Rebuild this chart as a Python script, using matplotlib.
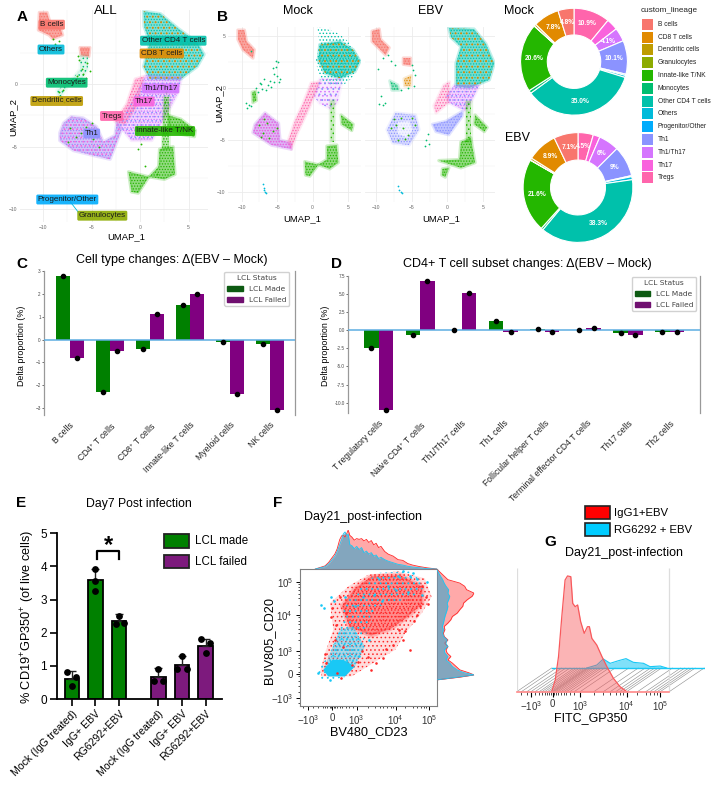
"""Multi-panel figure: UMAP clusters, lineage composition, cell type deltas and flow gates."""

import math

import matplotlib

matplotlib.use("Agg")

import matplotlib.pyplot as plt
from matplotlib.patches import Patch, Polygon, Rectangle

plt.rcParams["font.family"] = ["Liberation Sans", "DejaVu Sans"]
plt.rcParams["mathtext.default"] = "regular"
plt.rcParams["hatch.linewidth"] = 0.6

W, H = 711, 785

LINEAGES = ["B cells", "CD8 T cells", "Dendritic cells", "Granulocytes", "Innate-like T/NK",
            "Monocytes", "Other CD4 T cells", "Others", "Progenitor/Other", "Th1", "Th1/Th17",
            "Th17", "Tregs"]
LINEAGE_COLORS = ["#F8766D", "#E18A00", "#BE9C00", "#8CAB00", "#24B700", "#00BE70", "#00C1AB",
                  "#00BBDA", "#00ACFC", "#8B93FF", "#D575FE", "#F962DD", "#FF65AC"]
COL = dict(zip(LINEAGES, LINEAGE_COLORS))

# donut shares, clockwise from 12 o'clock
DONUT_ORDER = ["Tregs", "Th17", "Th1/Th17", "Th1", "Progenitor/Other", "Others", "Other CD4 T cells",
               "Monocytes", "Innate-like T/NK", "Granulocytes", "Dendritic cells", "CD8 T cells", "B cells"]
MOCK_SHARE = [10.9, 3.5, 4.1, 10.1, 0.4, 0.6, 35.0, 0.9, 20.6, 0.1, 0.6, 7.8, 4.8]
MOCK_TEXT = ["10.9%", "", "4.1%", "10.1%", "", "", "35.0%", "", "20.6%", "", "", "7.8%", "4.8%"]
EBV_SHARE = [4.5, 2.0, 6.0, 9.0, 0.3, 0.9, 38.3, 0.6, 21.6, 0.1, 0.6, 8.9, 7.1]
EBV_TEXT = ["4.5%", "", "6%", "9%", "", "", "38.3%", "", "21.6%", "", "", "8.9%", "7.1%"]

# cluster tags on the full UMAP: text, centre in figure pixels
ALL_TAGS = [("B cells", 51.7, 24.7), ("Others", 51, 49.5), ("Other CD4 T cells", 173.3, 40.7),
            ("CD8 T cells", 161.7, 53.5), ("Monocytes", 66.7, 82.7), ("Dendritic cells", 56.7, 101),
            ("Th1/Th17", 160.7, 88.5), ("Th17", 144, 101.5), ("Tregs", 111.7, 116), ("Th1", 91.7, 133.5),
            ("Innate-like T/NK", 165, 131), ("Progenitor/Other", 67.3, 199.5), ("Granulocytes", 102.3, 215.7)]

# cluster outlines on the UMAP, panel A
ALL_B = [(-10.4, 5.7), (-9.6, 5.7), (-9.3, 4.9), (-8.2, 4.4), (-8.0, 3.9), (-9.0, 3.6), (-9.4, 3.9), (-10.5, 4.3)]
ALL_TEAL = [(0.35, 5.8), (2.1, 5.6), (3.8, 4.5), (5.9, 3.3), (6.6, 2.35), (5.9, 1.4), (4.1, 0.35), (1.0, 0.4),
            (0.35, 1.4), (1.0, 3.3), (0.4, 4.6)]
ALL_MID = [(0.6, 0.7), (4.3, 0.6), (3.9, -0.7), (2.9, -2.2), (1.2, -4.5), (-0.9, -4.5), (-2.3, -3.2), (-1.0, -1.6)]
ALL_PINK = [(-0.5, 0.4), (0.4, 0.6), (-0.4, -1.8), (-1.6, -3.2), (-2.6, -3.0), (-1.4, -1.6)]
ALL_TH1 = [(-8.3, -3.9), (-7.9, -3.1), (-7.1, -2.6), (-5.9, -2.7), (-4.5, -3.4), (-3.8, -4.6), (-2.6, -4.1),
           (-2.4, -3.0), (-1.9, -3.6), (-3.1, -6.0), (-4.8, -5.7), (-6.9, -5.3), (-8.3, -4.5)]
ALL_STEM = [(2.5, -1.0), (3.0, -1.0), (3.0, -5.2), (2.3, -5.2)]
ALL_WING = [(2.9, -2.5), (4.2, -2.8), (5.7, -3.7), (5.6, -4.2), (4.2, -4.0), (3.0, -3.6)]
ALL_LOWER = [(2.0, -5.2), (3.4, -5.0), (3.6, -7.2), (2.5, -7.6), (0.9, -7.4), (1.9, -6.6)]
ALL_TAIL = [(-1.2, -7.0), (0.9, -7.4), (-0.2, -8.7), (-0.9, -8.6)]
ALL_MONO_TOP = [(-6.2, 2.9), (-5.2, 2.9), (-5.3, 2.2), (-6.1, 2.3)]
ALL_MONO = [(-6.2, 2.3), (-5.4, 2.3), (-5.4, 1.2), (-5.9, 0.5), (-7.6, -0.3), (-8.4, -1.3), (-8.6, -0.5),
            (-7.0, 0.4), (-6.2, 1.2)]

# panel B, mock
MOCK_B = [(-10.5, 5.6), (-9.6, 5.6), (-9.3, 4.5), (-8.2, 3.7), (-8.4, 2.9), (-9.8, 3.7), (-10.5, 4.7)]
MOCK_TEAL_SPARSE = [(0.6, 5.9), (1.6, 5.8), (3.6, 5.3), (5.2, 4.4), (6.8, 2.6), (5.9, 1.2), (4.2, 0.2), (1.2, 0.6), (0.4, 2.6), (1.0, 4.4)]
MOCK_TEAL = [(1.0, 4.2), (3.85, 4.5), (5.7, 3.7), (6.65, 2.6), (5.95, 1.6), (3.85, 0.95), (1.75, 1.45), (0.8, 2.7)]
MOCK_MID = [(1.0, 0.9), (4.2, 0.9), (3.5, -1.4), (2.5, -2.0), (1.0, -1.5), (0.2, -0.8)]
MOCK_PINK = [(-0.2, 0.5), (1.0, 0.6), (-0.4, -1.8), (-2.2, -4.4), (-3.0, -5.9), (-3.5, -5.2), (-2.5, -3.2), (-1.4, -1.6)]
MOCK_TH1 = [(-8.1, -3.5), (-6.7, -2.4), (-4.8, -3.4), (-4.6, -5.0), (-3.0, -5.3), (-3.0, -5.9), (-5.8, -5.5), (-8.4, -4.3)]
MOCK_STEM = [(2.5, -1.2), (3.1, -1.2), (3.0, -5.2), (2.5, -5.2)]
MOCK_WING = [(4.0, -2.6), (5.7, -3.5), (5.5, -4.1), (4.1, -3.5)]
MOCK_LOWER = [(2.0, -5.6), (3.4, -5.5), (3.6, -7.2), (2.4, -7.8), (0.8, -7.4), (2.0, -6.9)]
MOCK_TAIL = [(-1.1, -7.1), (0.8, -7.4), (-0.4, -8.5), (-1.0, -8.4)]
MOCK_MONO = [(-8.5, -0.4), (-8.0, -0.3), (-7.9, -1.2), (-8.4, -1.4)]

# panel B, EBV
EBV_B = [(-10.6, 5.5), (-9.6, 5.7), (-9.4, 4.7), (-8.2, 3.9), (-8.7, 3.2), (-10.6, 4.5)]
EBV_TEAL = [(0.2, 5.8), (3.75, 5.7), (5.4, 4.3), (6.6, 2.4), (5.9, 0.8), (3.05, 0.0), (1.2, 0.2), (1.2, 2.4), (1.9, 4.0), (0.5, 4.9)]
EBV_MID = [(1.0, 0.3), (4.5, 0.3), (3.2, -1.5), (2.5, -2.2), (0.2, -1.4), (-0.2, -0.8)]
EBV_PINK = [(-0.5, 0.3), (0.3, 0.6), (0.2, -1.4), (-1.6, -2.4), (-1.9, -1.7)]
EBV_LOW = [(-2.1, -3.5), (-0.2, -3.2), (2.1, -2.25), (2.1, -2.7), (0.2, -4.5), (-1.6, -4.2)]
EBV_TH1 = [(-8.5, -4.0), (-7.3, -2.4), (-4.5, -2.6), (-4.0, -4.0), (-5.4, -5.5), (-7.7, -5.3)]
EBV_TH1_HOLE = [(-7.0, -3.3), (-5.4, -3.2), (-4.9, -4.0), (-5.6, -4.8), (-7.0, -4.4)]
EBV_STEM = [(2.6, -1.2), (3.3, -1.2), (3.3, -5.2), (2.6, -5.2)]
EBV_WING = [(3.9, -2.6), (5.6, -3.8), (5.2, -4.2), (3.8, -3.5)]
EBV_LOWER = [(1.9, -5.2), (3.3, -4.8), (3.9, -7.2), (1.9, -7.7), (-1.2, -7.0), (1.7, -6.9)]
EBV_TAIL = [(-0.7, -7.8), (0.2, -7.7), (-0.3, -8.6), (-0.8, -8.4)]
EBV_MONO_TOP = [(-6.2, 2.9), (-5.2, 2.9), (-5.2, 2.2), (-6.2, 2.3)]
EBV_MONO_A = [(-8.1, 0.7), (-7.0, 0.3), (-6.8, -0.2), (-7.8, -0.2)]
EBV_MONO_B = [(-6.1, 0.9), (-5.1, 1.2), (-5.2, 0.2), (-6.0, 0.2)]

# outliers read point by point
ALL_GREEN_X = [-9.0, -8.8, -8.4, -6.3, -6.0, -5.9, -6.5, -7.0, -8.0, -8.2, -8.4, -7.9, -6.6, -7.2, -5.6, -4.9, 2.7, 2.6, 0.1, -0.2, 1.7, 0.5, -6.4, -5.5, -5.2, -5.6, -6.1, -7.4, -4.2, -5.0]
ALL_GREEN_Y = [3.6, 3.2, 3.4, 1.9, 1.2, 0.8, 0.6, 0.2, -0.5, -1.0, -0.6, -1.4, -4.2, -3.5, -3.4, -4.4, -0.6, -1.4, -4.8, -5.2, -7.2, -6.5, 2.2, 1.7, 1.0, 0.5, -3.9, -4.6, -5.0, -3.1]
MOCK_ARC_X = [-5.2, -4.9, -5.6, -5.4, -5.0, -4.6, -5.5, -6.0, -6.3, -6.8, -7.4, -7.9, -5.8, -4.7, -5.1, -6.5, -7.1, -9.3, -9.0, -9.2, -8.7, -8.6, -7.7, -7.3]
MOCK_ARC_Y = [2.6, 2.5, 1.9, 1.4, 1.2, 0.9, 0.6, 0.7, 0.3, 0.9, 0.5, 0.0, 0.1, 0.6, 2.0, -0.2, -0.1, -1.4, -1.6, -1.9, -1.7, 3.6, -0.4, 0.4]
MOCK_TH1_GREEN_X = [-7.6, -7.0, -6.4, -5.6, -6.9, -5.0, -6.1, -7.3]
MOCK_TH1_GREEN_Y = [-3.6, -4.3, -3.4, -4.1, -3.0, -3.9, -4.8, -4.7]
EBV_SPARSE_X = [-4.9, -5.0, -4.6, -4.7, -5.6, -6.6, -8.8, -9.0, -9.6, -9.3, -7.4, -7.9, -2.8, -3.0, -3.2, -2.6, -9.8, -9.0, -8.3]
EBV_SPARSE_Y = [1.7, 2.2, 1.3, 0.2, 0.0, -0.2, -1.4, -1.6, -1.5, -0.8, 2.2, 2.6, -4.4, -5.0, -5.6, -5.4, 1.8, 2.9, 3.2]
EBV_TH1_GREEN_X = [-8.0, -7.5, -7.0, -6.5, -6.0, -5.5, -5.0, -7.2, -4.6, -6.3]
EBV_TH1_GREEN_Y = [-3.9, -3.0, -5.0, -2.9, -4.9, -4.5, -2.9, -3.6, -3.6, -3.9]
MOCK_PROG_X = [-7.0, -6.9, -6.8, -6.7, -6.6]
MOCK_PROG_Y = [-9.3, -9.6, -9.8, -10.0, -10.1]
EBV_PROG_X = [-7.0, -6.8, -6.6, -6.4]
EBV_PROG_Y = [-9.5, -9.8, -10.0, -10.1]

# panel C
C_CATS = ["B cells", "CD4$^{+}$ T cells", "CD8$^{+}$ T cells", "Innate-like T cells", "Myeloid cells", "NK cells"]
C_MADE = [2.8, -2.3, -0.4, 1.5, -0.1, -0.2]
C_FAILED = [-0.8, -0.5, 1.1, 2.0, -2.4, -3.1]
C_YTICKS = [-3, -2, -1, 0, 1, 2, 3]

# panel D
D_CATS = ["T regulatory cells", "Naive CD4$^{+}$ T cells", "Th1/Th17 cells", "Th1 cells", "Follicular helper T cells",
          "Terminal effector CD4 T cells", "Th17 cells", "Th2 cells"]
D_MADE = [-2.5, -0.6, 0.1, 1.3, 0.2, 0.0, -0.4, -0.2]
D_FAILED = [-11.0, 6.8, 5.2, -0.3, -0.2, 0.3, -0.6, -0.3]
D_YTICKS = [-10.0, -7.5, -5.0, -2.5, 0.0, 2.5, 5.0, 7.5]

# panel E
E_CATS = ["Mock (IgG treated)", "IgG+ EBV", "RG6292+EBV", "Mock (IgG treated)", "IgG+ EBV", "RG6292+EBV"]
E_POS = [0, 1, 2, 3.66, 4.66, 5.65]
E_MEAN = [0.6, 3.58, 2.35, 0.65, 1.03, 1.6]
E_SD = [0.25, 0.35, 0.2, 0.28, 0.27, 0.22]
E_REP_A = [0.82, 3.92, 2.5, 0.9, 1.3, 1.8]
E_REP_B = [0.65, 3.55, 2.28, 0.55, 0.9, 1.7]
E_REP_C = [0.38, 3.25, 2.25, 0.55, 0.9, 1.38]
E_OFF_A = [-0.18, 0.0, 0.0, 0.0, 0.0, -0.2]
E_OFF_B = [0.2, 0.0, 0.2, 0.2, 0.2, 0.17]
E_OFF_C = [0.0, 0.0, -0.15, -0.2, -0.2, 0.0]

# panel F, biexponential display units
F_XTICKS = [-0.99, 0, 1, 2.6, 3.97]
F_XLABELS = ["$-10^3$", "0", "$10^3$", "$10^4$", "$10^5$"]
F_YTICKS = [-1.06, 0, 1, 2.62, 4.04]
F_YLABELS = ["$-10^3$", "0", "$10^3$", "$10^4$", "$10^5$"]
F_XMINOR = [-1.2, -0.8, -0.6, -0.4, -0.3, -0.2, -0.1, -0.05, 0.05, 0.1, 0.2, 0.3, 0.4, 0.55, 0.7, 0.85, 1.45, 1.75, 1.95, 2.1, 2.25, 2.4, 2.5, 3.0, 3.3, 3.5, 3.65, 3.75, 3.85]
F_YMINOR = [-1.25, -0.8, -0.5, -0.3, -0.1, 0.1, 0.3, 0.5, 0.7, 0.85, 1.5, 1.8, 2.0, 2.2, 2.35, 2.5, 3.05, 3.35, 3.55, 3.7, 3.85, 3.95]
F_RED = [(-0.5, 0.12), (-0.3, 0.93), (0.04, 1.96), (-0.1, 3.13), (0.66, 3.87), (1.48, 4.38), (2.71, 4.53), (3.8, 4.22),
         (4.08, 3.41), (3.67, 2.68), (2.99, 1.79), (2.58, 1.07), (1.89, 0.63), (0.79, -0.1), (-0.44, -0.1)]
F_RED_CORE = [(0.4, 3.0), (0.9, 3.75), (1.6, 4.3), (2.8, 4.35), (3.7, 3.85), (3.7, 3.1), (3.0, 2.45), (2.4, 2.0), (1.6, 1.7), (0.7, 2.1)]
F_CYAN = [(-0.7, 0.07), (-0.17, 0.78), (0.31, 1.96), (0.52, 3.13), (1.2, 3.87), (1.89, 4.46), (3.26, 4.53), (3.8, 3.87),
          (3.4, 3.41), (1.89, 2.97), (1.34, 1.66), (1.07, 0.78), (0.66, -0.1), (-0.44, -0.32)]
F_CYAN_MID = [(-0.37, 0.19), (0.31, 1.96), (0.85, 2.1), (1.34, 1.22), (0.93, 0.34)]
F_CYAN_CORE = [(-0.37, 0.19), (0.0, 0.63), (0.45, 0.63), (0.93, 0.34), (0.52, -0.1), (-0.17, -0.1)]
F_RED_X = [-0.25, 0.1, 0.45, -0.05, 0.3, 0.8, 2.2, 2.5, 2.9, 3.2, 3.6, 3.7, 1.8, 2.1, 0.0, -0.3, 0.2, 3.5, 3.0, 1.6, 0.15, 0.55, 1.2, 1.45, 2.75, 3.35, 3.85, 3.95, 1.05, 0.35]
F_RED_Y = [0.5, 1.5, 1.2, 2.5, 3.4, 0.4, 1.1, 1.3, 1.5, 1.05, 3.0, 3.9, 0.5, 0.7, 2.9, 0.9, 0.05, 2.6, 1.9, 0.2, 2.15, 2.7, 1.0, 0.75, 1.95, 2.35, 3.4, 3.1, 0.55, -0.15]
F_CYAN_X = [-0.45, -0.35, -0.05, 0.05, 0.5, 3.3, 3.9, 3.2, 2.9, 3.5, 1.5, 2.6, 1.1, -0.1, 1.9, 2.3, 2.7, 3.1, 1.7, 2.05, 1.25, 0.95, -0.6, 3.7]
F_CYAN_Y = [3.05, 2.9, 3.4, 3.2, 3.4, 4.45, 4.05, 4.3, 4.55, 4.2, 1.5, 3.7, 0.8, -0.25, 4.2, 3.9, 4.3, 3.6, 3.5, 3.2, 3.4, 3.0, 0.05, 3.5]

TOP_X = [-0.7, -0.3, -0.15, 0.0, 0.1, 0.2, 0.3, 0.38, 0.45, 0.52, 0.6, 0.65, 0.72, 0.8, 0.9, 1.0, 1.1, 1.2, 1.3, 1.4, 1.5, 1.6,
         1.7, 1.8, 1.9, 2.0, 2.15, 2.3, 2.5, 2.7, 2.9, 3.1, 3.3, 3.6, 3.9, 4.29]
TOP_RED = [0.0, 0.08, 0.17, 0.3, 0.38, 0.52, 0.75, 0.85, 0.87, 0.82, 0.92, 1.0, 0.86, 0.82, 0.74, 0.78, 0.76, 0.78, 0.72, 0.76, 0.68, 0.73,
           0.62, 0.66, 0.55, 0.58, 0.45, 0.38, 0.33, 0.24, 0.22, 0.14, 0.1, 0.06, 0.03, 0.0]
TOP_CYAN = [0.0, 0.06, 0.13, 0.25, 0.32, 0.45, 0.62, 0.75, 0.9, 0.95, 0.85, 0.9, 0.62, 0.6, 0.52, 0.58, 0.5, 0.55, 0.42, 0.46, 0.38, 0.42,
            0.33, 0.36, 0.27, 0.3, 0.24, 0.2, 0.16, 0.12, 0.1, 0.07, 0.05, 0.03, 0.01, 0.0]
RIGHT_Y = [-0.25, -0.13, -0.03, 0.07, 0.19, 0.34, 0.49, 0.63, 0.78, 0.93, 1.07, 1.22, 1.37, 1.51, 1.66, 1.81, 1.96, 2.1, 2.25, 2.4,
           2.54, 2.69, 2.84, 2.99, 3.13, 3.28, 3.43, 3.57, 3.72, 3.87, 4.01, 4.16, 4.38, 4.63]
RIGHT_RED = [0.0, 0.62, 1.0, 0.85, 0.62, 0.52, 0.42, 0.3, 0.38, 0.28, 0.25, 0.3, 0.22, 0.3, 0.2, 0.18, 0.22, 0.2, 0.3, 0.38,
             0.42, 0.55, 0.62, 0.7, 0.72, 0.82, 0.95, 1.0, 0.8, 0.75, 0.62, 0.3, 0.16, 0.0]
RIGHT_CYAN = [0.0, 0.55, 1.0, 0.72, 0.55, 0.42, 0.35, 0.25, 0.3, 0.22, 0.2, 0.3, 0.24, 0.28, 0.18, 0.16, 0.18, 0.15, 0.18, 0.2,
              0.22, 0.25, 0.28, 0.3, 0.28, 0.32, 0.35, 0.3, 0.32, 0.25, 0.2, 0.16, 0.08, 0.0]

# panel G
G_XTICKS = [-0.8, 0, 1, 2.7, 3.93]
G_XMINOR = [-1.15, -0.95, -0.65, -0.5, -0.4, -0.3, -0.2, -0.12, -0.05, 0.05, 0.12, 0.2, 0.3, 0.4, 0.5, 0.62, 0.78, 1.5, 1.85, 2.1, 2.3, 2.45, 2.58, 3.1, 3.4, 3.55, 3.7, 3.82]
G_RED_X = [-0.04, 0.09, 0.21, 0.33, 0.45, 0.54, 0.66, 0.73, 0.82, 0.91, 1.02, 1.15, 1.27, 1.34, 1.43, 1.61, 1.8, 1.98, 2.22, 2.46, 2.71]
G_RED = [0.0, 0.095, 0.284, 0.608, 0.905, 0.938, 0.932, 0.716, 0.689, 0.703, 0.568, 0.473, 0.527, 0.527, 0.432, 0.378, 0.284, 0.203, 0.108, 0.041, 0.0]
G_CYAN_X = [-0.04, 0.33, 0.57, 0.82, 1.12, 1.4, 1.67, 2.04, 2.28, 2.65, 2.89]
G_CYAN = [0.0, 0.024, 0.073, 0.038, 0.059, 0.076, 0.046, 0.038, 0.011, 0.016, 0.0]

GREEN = "#008000"
PURPLE = "#800080"
RED = "#FF2A2A"
CYAN = "#19C8F5"

fig = plt.figure(figsize=(W / 100, H / 100), dpi=100)


def px_axes(x0, y0, x1, y1, **kw):
    return fig.add_axes([x0 / W, 1 - y1 / H, (x1 - x0) / W, (y1 - y0) / H], **kw)


ov = px_axes(0, 0, W, H, zorder=20)
ov.set_xlim(0, W)
ov.set_ylim(H, 0)
ov.axis("off")
ov.patch.set_alpha(0)


def label(x, y, s, size=8, **kw):
    kw.setdefault("ha", "center")
    kw.setdefault("va", "center")
    ov.text(x, y, s, fontsize=size, **kw)


def cloud(ax, poly, color, hatch="......", fill=0.35, z=2):
    """Speckled cluster: a pale fill with a soft rim and the cluster colour stippled on it."""
    if fill:
        ax.add_patch(Polygon(poly, closed=True, facecolor=color, alpha=fill, lw=0, zorder=z))
        ax.add_patch(Polygon(poly, closed=True, facecolor="none", edgecolor=color, alpha=fill * 0.45,
                             lw=2.4, joinstyle="round", zorder=z))
    ax.add_patch(Polygon(poly, closed=True, facecolor="none", edgecolor=color, hatch=hatch, lw=0, zorder=z + 0.1))


def umap_axes(box, xlim, ylim, ylabels=True):
    ax = px_axes(*box)
    ax.set_xlim(*xlim)
    ax.set_ylim(*ylim)
    ax.set_xticks([-10, -5, 0, 5])
    ax.set_yticks([-10, -5, 0, 5])
    ax.set_xticks([-7.5, -2.5, 2.5], minor=True)
    ax.set_yticks([-7.5, -2.5, 2.5], minor=True)
    ax.grid(True, which="major", color="#EBEBEB", lw=0.6)
    ax.grid(True, which="minor", color="#F2F2F2", lw=0.35)
    ax.set_axisbelow(True)
    ax.tick_params(which="both", length=0, labelsize=3.6, labelcolor="#6a6a6a", pad=2, labelleft=ylabels)
    for s in ax.spines.values():
        s.set_visible(False)
    return ax


def panel_a():
    ax = umap_axes((20, 10, 208, 222), (-12.4, 7.0), (-11.0, 5.9))
    ax.set_yticks([-10, -5, 0])
    cloud(ax, ALL_TEAL, COL["Other CD4 T cells"], "......", 0.5)
    cloud(ax, ALL_TEAL, COL["CD8 T cells"], "...", 0, 3)
    cloud(ax, ALL_MID, COL["Th1/Th17"], "......", 0.3)
    cloud(ax, ALL_MID, COL["Th1"], "....", 0, 3)
    cloud(ax, ALL_PINK, COL["Tregs"], "......", 0.35, 3)
    cloud(ax, ALL_TH1, COL["Th1"], "......", 0.4)
    cloud(ax, ALL_TH1, COL["Th17"], "....", 0.15, 3)
    for poly in (ALL_WING, ALL_LOWER, ALL_TAIL):
        cloud(ax, poly, COL["Innate-like T/NK"], "......", 0.5, 4)
    cloud(ax, ALL_STEM, COL["Innate-like T/NK"], "......", 0.3, 4)
    cloud(ax, ALL_B, COL["B cells"], "......", 0.65)
    cloud(ax, ALL_MONO_TOP, COL["B cells"], "......", 0.7)
    cloud(ax, ALL_MONO, COL["Monocytes"], "....", 0.12)
    ax.scatter(ALL_GREEN_X, ALL_GREEN_Y, s=1.8, color=COL["Innate-like T/NK"], lw=0, zorder=6)
    ax.plot([-7.2, -6.4], [-9.4, -10.2], color=COL["Others"], lw=0.6)
    for s, x, y in ALL_TAGS:
        label(x, y, s, 5.8, color="#1a1a1a",
              bbox=dict(boxstyle="round,pad=0.18", facecolor=COL[s], edgecolor="none", alpha=0.9))
    label(22, 17, "A", 11, fontweight="bold")
    label(106, 11, "ALL", 9.5)
    label(126, 237, "UMAP_1", 6.8)
    label(13, 117, "UMAP_2", 6.8, rotation=90)


def panel_b():
    ax = umap_axes((228, 27, 361, 202), (-11.9, 6.8), (-11.0, 5.9))
    cloud(ax, MOCK_TEAL_SPARSE, COL["Other CD4 T cells"], ".....", 0)
    cloud(ax, MOCK_TEAL, COL["Other CD4 T cells"], "......", 0.6)
    cloud(ax, MOCK_TEAL, COL["CD8 T cells"], "...", 0, 3)
    cloud(ax, MOCK_MID, COL["Th1/Th17"], "....", 0.15)
    cloud(ax, MOCK_MID, COL["Th1"], "...", 0, 3)
    cloud(ax, MOCK_PINK, COL["Tregs"], "......", 0.3, 3)
    cloud(ax, MOCK_TH1, COL["Th1"], "......", 0.35)
    cloud(ax, MOCK_TH1, COL["Th17"], "......", 0.3, 3)
    ax.scatter(MOCK_TH1_GREEN_X, MOCK_TH1_GREEN_Y, s=1.8, color=COL["Innate-like T/NK"], lw=0, zorder=6)
    cloud(ax, MOCK_STEM, COL["Innate-like T/NK"], "....", 0.2, 4)
    for poly in (MOCK_WING, MOCK_LOWER, MOCK_TAIL):
        cloud(ax, poly, COL["Innate-like T/NK"], "......", 0.5, 4)
    cloud(ax, MOCK_B, COL["B cells"], "......", 0.65)
    cloud(ax, MOCK_MONO, COL["Innate-like T/NK"], "......", 0.5)
    ax.scatter(MOCK_ARC_X, MOCK_ARC_Y, s=1.6, color=COL["Monocytes"], lw=0, zorder=6)
    ax.scatter(MOCK_PROG_X, MOCK_PROG_Y, s=1.6, color=COL["Others"], lw=0, zorder=6)

    ax = umap_axes((365, 27, 495, 202), (-11.6, 6.7), (-11.0, 5.9), ylabels=False)
    cloud(ax, EBV_TEAL, COL["Other CD4 T cells"], "......", 0.55)
    cloud(ax, EBV_TEAL, COL["CD8 T cells"], "...", 0, 3)
    cloud(ax, EBV_MID, COL["Th1/Th17"], "......", 0.3)
    cloud(ax, EBV_MID, COL["Th1"], "....", 0, 3)
    cloud(ax, EBV_PINK, COL["Tregs"], "......", 0.25, 3)
    cloud(ax, EBV_LOW, COL["Th1"], "......", 0.55, 3)
    cloud(ax, EBV_TH1, COL["Th1"], "......", 0.3)
    ax.add_patch(Polygon(EBV_TH1_HOLE, closed=True, facecolor="white", alpha=0.65, lw=0, zorder=3))
    ax.scatter(EBV_TH1_GREEN_X, EBV_TH1_GREEN_Y, s=1.8, color=COL["Innate-like T/NK"], lw=0, zorder=6)
    cloud(ax, EBV_STEM, COL["Innate-like T/NK"], "....", 0.25, 4)
    for poly in (EBV_WING, EBV_LOWER, EBV_TAIL):
        cloud(ax, poly, COL["Innate-like T/NK"], "......", 0.5, 4)
    cloud(ax, EBV_B, COL["B cells"], "......", 0.65)
    cloud(ax, EBV_MONO_TOP, COL["B cells"], "......", 0.65)
    cloud(ax, EBV_MONO_A, COL["Monocytes"], "......", 0.4)
    cloud(ax, EBV_MONO_B, COL["CD8 T cells"], "......", 0.35)
    ax.scatter(EBV_SPARSE_X, EBV_SPARSE_Y, s=1.6, color=COL["Monocytes"], lw=0, zorder=6)
    ax.scatter(EBV_PROG_X, EBV_PROG_Y, s=1.6, color=COL["Others"], lw=0, zorder=6)

    label(222, 17, "B", 11, fontweight="bold")
    label(297.7, 11, "Mock", 9)
    label(430.7, 11, "EBV", 9)
    label(302, 219, "UMAP_1", 6.8)
    label(441, 219, "UMAP_1", 6.8)
    label(219, 103, "UMAP_2", 6.8, rotation=90)


def donut(cx, cy, r, shares, texts):
    ax = px_axes(cx - r, cy - r, cx + r, cy + r)
    colors = [COL[n] for n in DONUT_ORDER]
    wedges, _ = ax.pie(shares, colors=colors, startangle=90, counterclock=False, radius=1,
                       wedgeprops=dict(width=0.5, edgecolor="white", linewidth=0.8))
    ax.set_xlim(-1.02, 1.02)
    ax.set_ylim(-1.02, 1.02)
    for w, t in zip(wedges, texts):
        if not t:
            continue
        ang = math.radians((w.theta1 + w.theta2) / 2)
        ax.text(0.75 * math.cos(ang), 0.75 * math.sin(ang), t, ha="center", va="center",
                fontsize=4.8, color="white", fontweight="bold")


def panel_donuts():
    donut(574, 61.7, 54.5, MOCK_SHARE, MOCK_TEXT)
    donut(578, 187.5, 56, EBV_SHARE, EBV_TEXT)
    label(518.7, 11, "Mock", 9)
    label(517, 138, "EBV", 9)
    label(641, 10.7, "custom_lineage", 5.9, ha="left", color="#222222")
    for i, name in enumerate(LINEAGES):
        y = 24.3 + i * 12.8
        ov.add_patch(Rectangle((642, y - 5.5), 11.3, 11, facecolor=COL[name], edgecolor="none"))
        label(657.7, y, name, 4.75, ha="left", color="#222222")


def delta_bars(box, cats, made, failed, xlim, ylim, yticks, legend_right):
    ax = px_axes(*box)
    pos = list(range(len(cats)))
    w = 0.35
    x_made = [p - w / 2 for p in pos]
    x_failed = [p + w / 2 for p in pos]
    ax.bar(x_made, made, w, color=GREEN)
    ax.bar(x_failed, failed, w, color=PURPLE)
    ax.scatter(x_made, made, s=9, color="black", zorder=5, clip_on=False)
    ax.scatter(x_failed, failed, s=9, color="black", zorder=5, clip_on=False)
    ax.axhline(0, color="#5DADE2", lw=1.1, zorder=4)
    ax.set_xlim(*xlim)
    ax.set_ylim(*ylim)
    ax.set_yticks(yticks)
    ax.set_xticks(pos)
    ax.set_xticklabels(cats, rotation=45, ha="right", rotation_mode="anchor", fontsize=6.2, color="#222222")
    ax.tick_params(axis="x", length=0, pad=4)
    ax.tick_params(axis="y", length=1.5, width=0.4, labelsize=3.3, pad=1, labelcolor="#444444")
    for side in ("top", "bottom"):
        ax.spines[side].set_visible(False)
    for side in ("left", "right"):
        ax.spines[side].set_color("#999999")
        ax.spines[side].set_linewidth(0.9)
    handles = [Patch(color="#0D5A12", label="LCL Made"), Patch(color="#701070", label="LCL Failed")]
    leg = ax.legend(handles=handles, title="LCL Status", loc="upper right", bbox_to_anchor=(legend_right, 0.995),
                    prop=dict(family="DejaVu Sans", size=5.4), title_fontproperties=dict(family="DejaVu Sans", size=5.4),
                    fancybox=True, framealpha=0.9, borderpad=0.4, labelspacing=0.65, handlelength=2.1,
                    handletextpad=0.75, borderaxespad=0)
    for t in leg.get_texts():
        t.set_color("#444444")
    leg.get_title().set_color("#444444")
    return ax


def panel_cd():
    delta_bars((44.3, 271, 295.3, 415), C_CATS, C_MADE, C_FAILED, (-0.633, 5.63), (-3.3, 3.0), C_YTICKS, 0.976)
    label(22, 264, "C", 11, fontweight="bold")
    label(172, 260, "Cell type changes: Δ(EBV – Mock)", 9)
    label(22, 346, "Delta proportion (%)", 6.4, rotation=90)

    ax = delta_bars((348.3, 276, 700.3, 413.3), D_CATS, D_MADE, D_FAILED, (-0.73, 7.74), (-11.47, 7.5), D_YTICKS, 0.989)
    ax.set_yticklabels([f"{t:.1f}" for t in D_YTICKS])
    label(337, 264, "D", 11, fontweight="bold")
    label(527, 264, "CD4+ T cell subset changes: Δ(EBV – Mock)", 9)
    label(325, 346, "Delta proportion (%)", 6.4, rotation=90)


def panel_e():
    ax = px_axes(56.7, 533.3, 221.7, 699)
    colors = [GREEN] * 3 + ["#7D1A7D"] * 3
    ax.bar(E_POS, E_MEAN, 0.6, color=colors, edgecolor="black", lw=1.3, zorder=2)
    ax.errorbar(E_POS, E_MEAN, yerr=[[0] * 6, E_SD], fmt="none", ecolor="#222222", elinewidth=1, capsize=3, capthick=1, zorder=3)
    for offs, reps in ((E_OFF_A, E_REP_A), (E_OFF_B, E_REP_B), (E_OFF_C, E_REP_C)):
        ax.scatter([p + o for p, o in zip(E_POS, offs)], reps, s=24, color="black", lw=0, zorder=4)
    ax.set_xlim(-0.633, 6.33)
    ax.set_ylim(0, 5)
    ax.set_yticks([0, 1, 2, 3, 4, 5])
    ax.set_xticks(E_POS)
    ax.set_xticklabels(E_CATS, rotation=45, ha="right", rotation_mode="anchor", fontsize=7.6)
    ax.tick_params(axis="y", labelsize=8.5, width=1.2, length=5, pad=2)
    ax.tick_params(axis="x", width=1.2, length=5, pad=2)
    for side in ("top", "right"):
        ax.spines[side].set_visible(False)
    for side in ("left", "bottom"):
        ax.spines[side].set_linewidth(1.3)
    ax.plot([1.07, 1.07, 2.0, 2.0], [4.22, 4.47, 4.47, 4.22], color="black", lw=1.6, clip_on=False)
    ax.text(1.55, 4.62, "*", fontsize=17, fontweight="bold", ha="center", va="center")
    ov.add_patch(Rectangle((163.5, 534), 25, 13.5, facecolor=GREEN, edgecolor="#222222", lw=1.3))
    ov.add_patch(Rectangle((163.5, 554.5), 25, 13.5, facecolor="#7D1A7D", edgecolor="#222222", lw=1.3))
    label(195, 541, "LCL made", 8.3, ha="left")
    label(195, 562, "LCL failed", 8.3, ha="left")
    label(21, 503, "E", 11, fontweight="bold")
    label(139, 504, "Day7 Post infection", 8.8)
    label(28, 617, "% CD19$^{+}$GP350$^{+}$ (of live cells)", 9.2, rotation=90)


def panel_f():
    ax = px_axes(300, 569, 436.7, 706)
    ax.set_xlim(-1.33, 4.29)
    ax.set_ylim(-1.4, 4.63)
    ax.add_patch(Polygon(F_RED, closed=True, facecolor=RED, alpha=0.16, lw=0, zorder=2))
    ax.add_patch(Polygon(F_RED, closed=True, facecolor="none", edgecolor=RED, hatch="....", lw=0, zorder=2))
    ax.add_patch(Polygon(F_RED_CORE, closed=True, facecolor=RED, alpha=0.45, lw=0, zorder=3))
    ax.add_patch(Polygon(F_RED_CORE, closed=True, facecolor="none", edgecolor=RED, alpha=0.25, lw=3, zorder=3))
    ax.add_patch(Polygon(F_RED_CORE, closed=True, facecolor="none", edgecolor=RED, hatch=".....", lw=0, zorder=3))
    ax.add_patch(Polygon(F_CYAN, closed=True, facecolor="none", edgecolor=CYAN, hatch="...", lw=0, zorder=4))
    ax.add_patch(Polygon(F_CYAN_MID, closed=True, facecolor=CYAN, alpha=0.35, lw=0, zorder=4))
    ax.add_patch(Polygon(F_CYAN_MID, closed=True, facecolor="none", edgecolor=CYAN, hatch=".....", lw=0, zorder=4))
    ax.add_patch(Polygon(F_CYAN_CORE, closed=True, facecolor=CYAN, lw=0, zorder=5))
    ax.scatter(F_RED_X, F_RED_Y, s=3.5, color=RED, lw=0, zorder=5)
    ax.scatter(F_CYAN_X, F_CYAN_Y, s=3.5, color=CYAN, lw=0, zorder=5)
    ax.set_xticks(F_XTICKS)
    ax.set_xticklabels(F_XLABELS)
    ax.set_yticks(F_YTICKS)
    ax.set_yticklabels(F_YLABELS)
    ax.set_xticks(F_XMINOR, minor=True)
    ax.set_yticks(F_YMINOR, minor=True)
    ax.tick_params(which="major", labelsize=7, length=3, width=0.7, pad=2, labelcolor="#333333")
    ax.tick_params(which="minor", length=1.5, width=0.5)
    for s in ax.spines.values():
        s.set_color("#808080")
        s.set_linewidth(0.8)

    top = px_axes(300, 530, 436.7, 569)
    top.fill_between(TOP_X, TOP_RED, color=RED, alpha=0.4, lw=0)
    top.plot(TOP_X, TOP_RED, color=RED, lw=0.6)
    top.fill_between(TOP_X, TOP_CYAN, color="#4FA6C8", alpha=0.7, lw=0)
    top.plot(TOP_X, TOP_CYAN, color=CYAN, lw=0.6)
    top.set_xlim(-1.33, 4.29)
    top.set_ylim(0, 1)
    top.axis("off")

    right = px_axes(436.7, 569, 474, 706)
    right.fill_betweenx(RIGHT_Y, RIGHT_RED, color=RED, alpha=0.4, lw=0)
    right.plot(RIGHT_RED, RIGHT_Y, color=RED, lw=0.6)
    right.fill_betweenx(RIGHT_Y, RIGHT_CYAN, color="#4FA6C8", alpha=0.7, lw=0)
    right.plot(RIGHT_CYAN, RIGHT_Y, color=CYAN, lw=0.6)
    right.set_ylim(-1.4, 4.63)
    right.set_xlim(0, 1)
    right.axis("off")

    label(278, 503, "F", 11, fontweight="bold")
    label(362.7, 517, "Day21_post-infection", 9)
    label(369, 732, "BV480_CD23", 9.2)
    label(269, 640, "BUV805_CD20", 9.2, rotation=90)


def panel_g():
    ax = px_axes(516.7, 568.3, 705, 691.7)
    shift, lift = 1.28, 0.192
    ax.set_xlim(-1.32, 5.57)
    ax.set_ylim(0, 1)
    for p in [-1.32] + G_XTICKS + G_XMINOR + [4.26]:
        ax.plot([p, p + shift], [0, lift], color="#8a8a8a", lw=0.4, zorder=1)
    ax.vlines([-1.32, 4.26], 0, 1, color="#DDDDDD", lw=0.9, zorder=1)
    ax.fill_between([x + shift for x in G_CYAN_X], [h + lift for h in G_CYAN], lift, color=CYAN, alpha=0.55, lw=0, zorder=2)
    ax.plot([x + shift for x in G_CYAN_X], [h + lift for h in G_CYAN], color=CYAN, lw=0.8, zorder=2)
    ax.plot([-0.04, 5.57], [lift, lift], color=CYAN, lw=1, zorder=2)
    ax.fill_between(G_RED_X, G_RED, color="#F8595C", alpha=0.45, lw=0, zorder=3)
    ax.plot(G_RED_X, G_RED, color="#F8595C", lw=0.9, zorder=3)
    ax.plot([-1.32, 4.26], [0, 0], color="#FF8888", lw=1.2, zorder=3, clip_on=False)
    ax.set_xticks(G_XTICKS)
    ax.set_xticklabels(F_XLABELS)
    ax.set_xticks(G_XMINOR, minor=True)
    ax.set_yticks([])
    ax.tick_params(which="major", labelsize=7, length=3.5, width=0.8, pad=2, labelcolor="#333333")
    ax.tick_params(which="minor", length=2, width=0.5)
    for s in ax.spines.values():
        s.set_visible(False)
    ax.patch.set_alpha(0)

    ov.add_patch(Rectangle((585.3, 506), 25, 13, facecolor="#FF0000", edgecolor="#222222", lw=1.2))
    ov.add_patch(Rectangle((585.3, 523), 25, 13, facecolor="#00CCFF", edgecolor="#222222", lw=1.2))
    label(614, 513, "IgG1+EBV", 8.2, ha="left")
    label(614, 530, "RG6292 + EBV", 8.2, ha="left")
    label(550, 541.7, "G", 11, fontweight="bold")
    label(624, 553, "Day21_post-infection", 9)
    label(590.7, 718, "FITC_GP350", 9)


panel_a()
panel_b()
panel_donuts()
panel_cd()
panel_e()
panel_f()
panel_g()

fig.savefig("out.png", dpi=100)
